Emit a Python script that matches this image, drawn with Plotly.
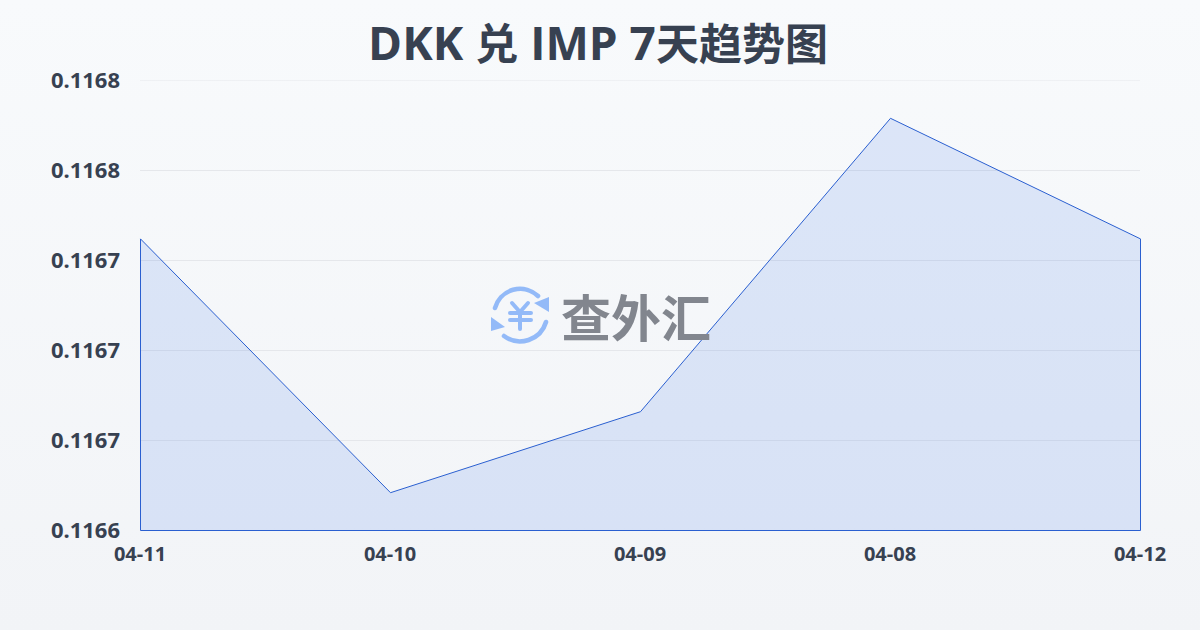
import base64
import plotly.graph_objects as go

dates = ["04-11", "04-10", "04-09", "04-08", "04-12"]
rates = [0.116762, 0.116621, 0.116666, 0.116829, 0.116762]
y_ticks = [0.11660, 0.11665, 0.11670, 0.11675, 0.11680, 0.11685]
y_labels = ["0.1166", "0.1167", "0.1167", "0.1167", "0.1168", "0.1168"]
y_floor = 0.11660
y_ceil = 0.11685
cjk_span = "<span style='font-size:43px'>%s</span>"
title_text = "DKK " + cjk_span % "兑" + " IMP 7" + cjk_span % "天趋势图"
brand_text = "查外汇"

W, H = 1200, 630
L, R, T, B = 140, 60, 80, 100

def uri(svg):
    return "data:image/svg+xml;base64," + base64.b64encode(svg.encode()).decode()

bg_svg = f'''<svg xmlns="http://www.w3.org/2000/svg" width="{W}" height="{H}" preserveAspectRatio="none">
<defs><linearGradient id="g" x1="0" y1="0" x2="0" y2="1"><stop offset="0" stop-color="#f8fafc"/><stop offset="1" stop-color="#f2f4f7"/></linearGradient></defs>
<rect width="{W}" height="{H}" fill="url(#g)"/></svg>'''

icon_svg = '''<svg xmlns="http://www.w3.org/2000/svg" width="60" height="60" viewBox="0 0 60 60">
<g fill="none" stroke="#93baf8" stroke-width="4.6" stroke-linecap="round">
<path d="M5 23 A26 26 0 0 1 48 11"/><path d="M56 37 A27 27 0 0 1 14 51"/></g>
<g fill="none" stroke="#93baf8" stroke-width="4" stroke-linecap="round">
<path d="M22 18 L30 27 L38 18 M20 28 H41 M20 35 H41 M30 27 V44"/></g>
<path d="M59 12 L59 27 L44 18 Z" fill="#93baf8"/><path d="M1 32 L1 46 L15 42 Z" fill="#93baf8"/>
</svg>'''

px_w = W - L - R
px_h = H - T - B
def fx(p): return (p - L) / px_w
def fy(p): return 1 - (p - T) / px_h

fig = go.Figure()
fig.add_trace(go.Scatter(
    x=[dates[0]] + dates + [dates[-1], dates[0]],
    y=[y_floor] + rates + [y_floor, y_floor],
    mode="lines",
    fill="toself",
    fillcolor="rgba(37,99,235,0.13)",
    line=dict(color="#2a5fd0", width=1),
    cliponaxis=False,
    hoverinfo="skip",
    showlegend=False,
))

fig.update_layout(
    width=W, height=H,
    margin=dict(l=L, r=R, t=T, b=B, pad=0),
    paper_bgcolor="#f5f7fa",
    plot_bgcolor="rgba(0,0,0,0)",
    title=dict(
        text=title_text, x=598 / W, xanchor="center", y=1 - 44 / H, yanchor="middle",
        font=dict(family="Open Sans, Noto Sans CJK SC", size=46, color="#374151", weight=700),
    ),
    xaxis=dict(
        type="category", categoryorder="array", categoryarray=dates,
        range=[0, len(dates) - 1], showgrid=False, zeroline=False, showline=False,
        ticks="", ticklabelstandoff=10,
        tickfont=dict(family="Noto Sans", size=20, color="#374151", weight=700),
    ),
    yaxis=dict(
        range=[y_floor, y_ceil], tickmode="array", tickvals=y_ticks, ticktext=y_labels,
        showgrid=True, gridcolor="#e5e7eb", gridwidth=1, zeroline=False, showline=False,
        ticks="", ticklabelstandoff=19,
        tickfont=dict(family="Noto Sans", size=22, color="#374151", weight=700),
    ),
    shapes=[
        dict(type="line", xref="paper", x0=0, x1=1, yref="y", y0=y_ceil, y1=y_ceil,
             line=dict(color="#e5e7eb", width=1), layer="below"),
    ],
    images=[
        dict(source=uri(bg_svg), xref="paper", yref="paper", x=fx(0), y=fy(0),
             sizex=W / px_w, sizey=H / px_h, sizing="stretch", layer="below",
             xanchor="left", yanchor="top"),
        dict(source=uri(icon_svg), xref="paper", yref="paper", x=fx(490), y=fy(285),
             sizex=60 / px_w, sizey=60 / px_h, sizing="contain", layer="above",
             xanchor="left", yanchor="top"),
    ],
    annotations=[
        dict(text=brand_text, xref="paper", yref="paper", x=fx(636), y=fy(315),
             xanchor="center", yanchor="middle", showarrow=False,
             font=dict(family="Noto Sans CJK SC", size=50, color="#82868e", weight=700)),
    ],
)

fig.write_html(
    "out.html", config={"displayModeBar": False},
    post_script=(
        "document.body.style.margin='0';"
        "document.querySelectorAll('.cartesianlayer [clip-path]').forEach(function(n){"
        "n.removeAttribute('clip-path');});"
        "document.querySelectorAll('.scatterlayer').forEach(function(n){"
        "n.setAttribute('transform','translate(0.5,0.5)');});"
    ),
)
